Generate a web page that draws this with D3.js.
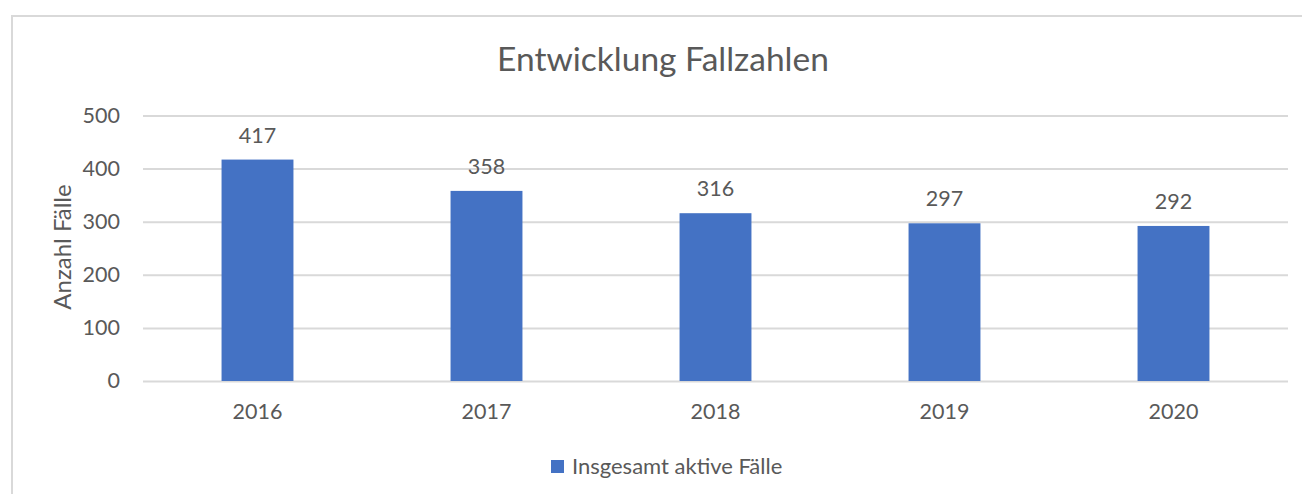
<!DOCTYPE html>
<html>
<head>
<meta charset="utf-8">
<script src="https://cdn.jsdelivr.net/npm/d3@7"></script>
<style>
  body { margin: 0; background: #fff; }
  text { font-family: Lato, "Open Sans", sans-serif; fill: #595959; }
</style>
</head>
<body>
<script>
let years = ["2016", "2017", "2018", "2019", "2020"];
let activeCases = [417, 358, 316, 297, 292];
let yTicks = [0, 100, 200, 300, 400, 500];
let chartTitle = "Entwicklung Fallzahlen";
let yTitle = "Anzahl Fälle";
let seriesName = "Insgesamt aktive Fälle";

let svgWidth = 1302,
    svgHeight = 494,
    plot = { left: 143, right: 1288, top: 115.5, bottom: 381 },
    barColor = "#4472c4",
    gridColor = "#d9d9d9";

let svg = d3.select("body").append("svg")
    .attr("width", svgWidth)
    .attr("height", svgHeight);

// outer chart frame (runs off the right and bottom edge)
svg.append("rect")
    .attr("x", 12)
    .attr("y", 16)
    .attr("width", 1310)
    .attr("height", 500)
    .attr("fill", "none")
    .attr("stroke", gridColor)
    .attr("stroke-width", 2);

let xScale = d3.scaleBand()
    .domain(years)
    .range([plot.left, plot.right])
    .paddingInner(0.686)
    .paddingOuter(0.343);

let yScale = d3.scaleLinear()
    .domain([0, 500])
    .range([plot.bottom, plot.top]);

// gridlines + y tick labels
let yAxis = svg.append("g")
    .attr("transform", "translate(" + plot.left + ",0)")
    .call(d3.axisLeft(yScale)
        .tickValues(yTicks)
        .tickSize(-(plot.right - plot.left))
        .tickPadding(23));
yAxis.select(".domain").remove();
yAxis.selectAll("line").attr("stroke", gridColor).attr("stroke-width", 2);
yAxis.selectAll("text")
    .attr("font-size", 21.5)
    .attr("fill", "#595959")
    .attr("font-family", "Lato, 'Open Sans', sans-serif");

// bars
svg.append("g").selectAll("rect")
    .data(activeCases)
    .join("rect")
    .attr("x", (d, i) => xScale(years[i]))
    .attr("y", d => yScale(d))
    .attr("width", xScale.bandwidth())
    .attr("height", d => yScale(0) - yScale(d))
    .attr("fill", barColor);

// value labels
svg.append("g").selectAll("text")
    .data(activeCases)
    .join("text")
    .attr("x", (d, i) => xScale(years[i]) + xScale.bandwidth() / 2)
    .attr("y", d => yScale(d) - 17)
    .attr("text-anchor", "middle")
    .attr("font-size", 21.5)
    .text(d => d);

// x axis labels
let xAxis = svg.append("g")
    .attr("transform", "translate(0," + plot.bottom + ")")
    .call(d3.axisBottom(xScale).tickSize(0).tickPadding(23));
xAxis.select(".domain").remove();
xAxis.selectAll("text")
    .attr("font-size", 21.5)
    .attr("fill", "#595959")
    .attr("font-family", "Lato, 'Open Sans', sans-serif");

// title
svg.append("text")
    .attr("x", 663)
    .attr("y", 71)
    .attr("text-anchor", "middle")
    .attr("font-size", 33.5)
    .text(chartTitle);

// y axis title
svg.append("text")
    .attr("transform", "translate(71,247) rotate(-90)")
    .attr("text-anchor", "middle")
    .attr("font-size", 24)
    .text(yTitle);

// legend
let legend = svg.append("g").attr("transform", "translate(551,460)");
legend.append("rect")
    .attr("width", 13)
    .attr("height", 13)
    .attr("fill", barColor);
legend.append("text")
    .attr("x", 21)
    .attr("y", 14)
    .attr("font-size", 22)
    .text(seriesName);
</script>
</body>
</html>
